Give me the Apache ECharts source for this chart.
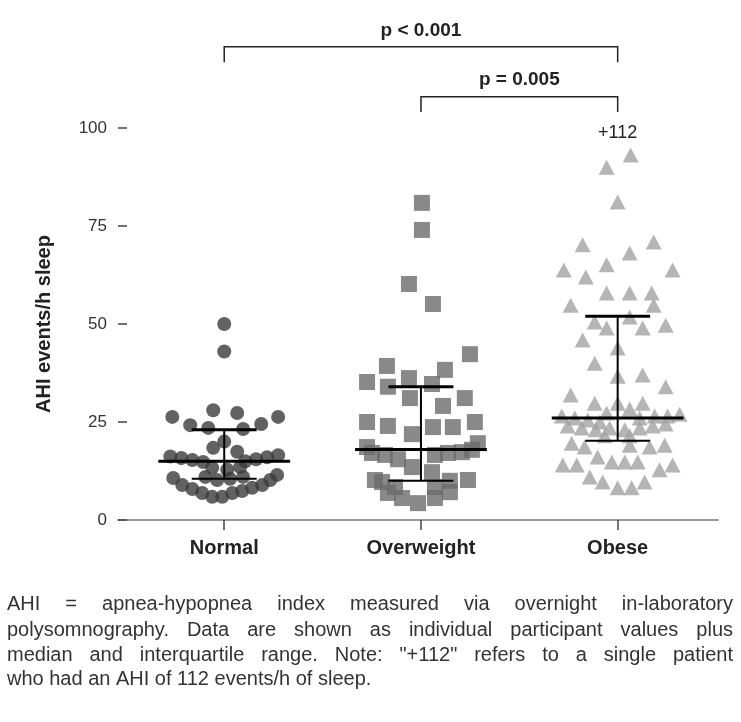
<!DOCTYPE html>
<html>
<head>
<meta charset="utf-8">
<script src="https://cdn.jsdelivr.net/npm/echarts@6/dist/echarts.min.js"></script>
<style>
  html, body { margin: 0; padding: 0; background: #fff; }
  #main { width: 741px; height: 722px; }
</style>
</head>
<body>
<div id="main"></div>
<script>
  // groups on the x axis
  var groups = ['Normal', 'Overweight', 'Obese'];

  // AHI per participant (events/h) and the horizontal spread of each dot (category units)
  var normalAHI = [50, 43, 28, 27.3, 26.3, 26.3, 24.2, 23.5, 23.2, 24.5, 20, 18.4, 17.4,
    16.2, 15.8, 15.3, 14.8, 16.5, 16, 15.5, 15, 13.3, 12.8, 13.5, 11, 10.2, 10.5, 11,
    10.7, 8.9, 7.9, 6.9, 5.9, 5.9, 6.9, 7.4, 8.2, 8.9, 10.2, 11.5];
  var normalJitter = [0, 0, -0.056, 0.066, -0.264, 0.274, -0.173, -0.081, 0.096, 0.188, 0, -0.056, 0.066,
    -0.274, -0.218, -0.162, -0.107, 0.274, 0.218, 0.162, 0.107, -0.061, 0.015, 0.081, -0.096, -0.036, 0.030, 0.096,
    -0.259, -0.213, -0.162, -0.112, -0.061, -0.010, 0.041, 0.091, 0.142, 0.193, 0.234, 0.269];

  var overweightAHI = [80.9, 74, 60.2, 55.1, 42.3, 39.3, 38.3, 35.2, 36.2, 34, 34.7, 31.1, 31.1, 29.1,
    25, 24, 23.7, 23.7, 25, 21.9, 18.6, 19.6, 17.1, 16.6, 16.6, 17.1, 17.3, 17.9, 15.5,
    13.5, 12.2, 10.2, 10.2, 8.4, 8.4, 6.9, 7.1, 5.6, 5.6, 4.3, 9.7, 10];
  var overweightJitter = [0.005, 0.005, -0.061, 0.061, 0.249, -0.173, 0.122, -0.274, -0.061, -0.168, 0.056, -0.056, 0.223, 0.112,
    -0.274, -0.168, 0.061, 0.162, 0.274, -0.046, -0.274, 0.289, -0.249, -0.183, 0.071, 0.137, 0.208, 0.259, -0.117,
    -0.046, 0.056, -0.234, 0.239, -0.132, 0.071, -0.168, 0.147, -0.096, 0.071, -0.015, -0.198, 0.147];

  var obeseAHI = [93.1, 90, 81.1, 70.2, 70.9, 68.1, 63.8, 65.1, 63.8, 62, 57.9, 57.9, 57.9, 54.8, 54.8,
    51.8, 50.5, 49, 49, 49.7, 45.9, 43.9, 40, 36.7, 37, 34, 31.9, 29.8, 29.8, 29.8, 27.3, 28.3,
    26.5, 26, 25.5, 25, 26, 26.5, 26.5, 27, 24, 23.5, 23, 23.5, 23, 23.5, 24, 24.5, 21.5, 21.5,
    19.6, 18.6, 19.1, 18.6, 19.1, 16.1, 14.8, 14.8, 14.8, 14, 14, 12.8, 14, 11, 9.7, 8.2, 8.2, 9.7];
  var obeseJitter = [0.066, -0.056, 0, -0.178, 0.183, 0.061, -0.274, -0.056, 0.279, -0.162, -0.056, 0.061, 0.173, -0.239, 0.183,
    0.061, -0.117, -0.056, 0.127, 0.244, -0.178, 0, -0.117, 0, 0.127, 0.244, -0.239, -0.117, 0, 0.127, -0.056, 0.061,
    -0.284, -0.218, -0.152, -0.091, 0.112, 0.188, 0.254, 0.315, -0.254, -0.183, -0.112, -0.041, 0.036, 0.112, 0.178, 0.244, -0.066, 0.061,
    -0.234, -0.168, 0.061, 0.162, 0.239, -0.102, -0.030, 0.036, 0.102, -0.279, -0.208, 0.213, 0.279, -0.142, -0.076, 0, 0.071, 0.137];

  // median and interquartile range per group
  var medians = [15, 18, 26];
  var q1 = [10.5, 10, 20.2];
  var q3 = [23, 34, 52];

  // single obese patient above the axis range
  var outlierAHI = 112;

  // pairwise comparisons
  var compPairs = [[0, 2], [1, 2]];
  var compLabels = ['p < 0.001', 'p = 0.005'];

  var captionLines = [
    'AHI = apnea-hypopnea index measured via overnight in-laboratory',
    'polysomnography. Data are shown as individual participant values plus',
    'median and interquartile range. Note: "+112" refers to a single patient',
    'who had an AHI of 112 events/h of sleep.'
  ];

  var FONT = 'Liberation Sans';

  function points(vals, jit, idx) {
    return vals.map(function (v, i) { return [idx + jit[i], v]; });
  }

  // justified caption, one text element per word
  var ctx = document.createElement('canvas').getContext('2d');
  ctx.font = '20px "' + FONT + '"';
  var capLeft = 7, capRight = 733, capY = [604, 630, 655, 679];
  var caption = [];
  captionLines.forEach(function (line, li) {
    var words = line.split(' ');
    var widths = words.map(function (w) { return ctx.measureText(w).width; });
    var total = widths.reduce(function (a, b) { return a + b; }, 0);
    var gap = li === captionLines.length - 1 ? ctx.measureText(' ').width
      : (capRight - capLeft - total) / (words.length - 1);
    var x = capLeft;
    words.forEach(function (w, i) {
      caption.push({
        type: 'text', x: x, y: capY[li], silent: true,
        style: { text: w, fontFamily: FONT, fontSize: 20, fill: '#333', textVerticalAlign: 'middle' }
      });
      x += widths[i] + gap;
    });
  });

  var bracketTop = [120.7, 108];
  var bracketDrop = 3.9;

  var option = {
    animation: false,
    backgroundColor: '#fff',
    grid: { left: 118, right: 23, top: 128, bottom: 202 },
    xAxis: {
      type: 'value',
      min: -0.54,
      max: 2.51,
      splitLine: { show: false },
      axisLine: { lineStyle: { color: '#999', width: 2 } },
      axisTick: { customValues: [0, 1, 2], length: 10, lineStyle: { color: '#444', width: 1.5 } },
      axisLabel: {
        customValues: [0, 1, 2],
        formatter: function (v) { return groups[Math.round(v)]; },
        fontFamily: FONT, fontSize: 20, fontWeight: 'bold', color: '#222', margin: 18
      }
    },
    yAxis: {
      type: 'value',
      min: 0,
      max: 100,
      interval: 25,
      name: 'AHI events/h sleep',
      nameLocation: 'middle',
      nameGap: 64,
      nameTextStyle: { fontFamily: FONT, fontSize: 20, fontWeight: 'bold', color: '#222' },
      splitLine: { show: false },
      axisLine: { show: false, onZero: false },
      axisTick: { show: true, inside: true, length: 9, lineStyle: { color: '#444', width: 1.5 } },
      axisLabel: { fontFamily: FONT, fontSize: 17, color: '#333', margin: 11 }
    },
    graphic: caption,
    series: [
      {
        name: groups[0], type: 'scatter', symbol: 'circle', symbolSize: 14,
        itemStyle: { color: '#3b3b3b' },
        data: points(normalAHI, normalJitter, 0)
      },
      {
        name: groups[1], type: 'scatter', symbol: 'rect', symbolSize: 16,
        itemStyle: { color: '#6b6b6b' },
        data: points(overweightAHI, overweightJitter, 1)
      },
      {
        name: groups[2], type: 'scatter', symbol: 'triangle', symbolSize: [16, 15],
        itemStyle: { color: '#a3a3a3' },
        data: points(obeseAHI, obeseJitter, 2)
      },
      {
        // median line and IQR whisker
        type: 'custom', z: 5, silent: true,
        data: groups.map(function (g, i) { return [i, q1[i], medians[i], q3[i]]; }),
        renderItem: function (params, api) {
          var c = api.value(0);
          var lo = api.coord([c, api.value(1)]);
          var hi = api.coord([c, api.value(3)]);
          var mL = api.coord([c - 0.335, api.value(2)]);
          var mR = api.coord([c + 0.335, api.value(2)]);
          var capW = api.size([0.165, 0])[0];
          return {
            type: 'group',
            children: [
              { type: 'line', shape: { x1: lo[0], y1: lo[1], x2: hi[0], y2: hi[1] }, style: { stroke: '#000', lineWidth: 2 } },
              { type: 'line', shape: { x1: hi[0] - capW, y1: hi[1], x2: hi[0] + capW, y2: hi[1] }, style: { stroke: '#000', lineWidth: 3 } },
              { type: 'line', shape: { x1: lo[0] - capW, y1: lo[1], x2: lo[0] + capW, y2: lo[1] }, style: { stroke: '#000', lineWidth: 2 } },
              { type: 'line', shape: { x1: mL[0], y1: mL[1], x2: mR[0], y2: mR[1] }, style: { stroke: '#000', lineWidth: 3 } }
            ]
          };
        }
      },
      {
        // significance brackets
        type: 'custom', clip: false, silent: true,
        data: compPairs.map(function (p, i) { return [p[0], p[1], i]; }),
        renderItem: function (params, api) {
          var i = api.value(2);
          var a = api.coord([api.value(0), bracketTop[i]]);
          var b = api.coord([api.value(1), bracketTop[i]]);
          var drop = api.coord([0, bracketTop[i] - bracketDrop])[1];
          return {
            type: 'group',
            children: [
              { type: 'polyline', shape: { points: [[a[0], drop], [a[0], a[1]], [b[0], b[1]], [b[0], drop]] },
                style: { stroke: '#222', lineWidth: 1.5, fill: null } },
              { type: 'text', x: (a[0] + b[0]) / 2, y: a[1] - 7,
                style: { text: compLabels[i], fontFamily: FONT, fontSize: 19, fontWeight: 'bold', fill: '#222',
                  textAlign: 'center', textVerticalAlign: 'bottom' } }
            ]
          };
        }
      },
      {
        // label for the off-scale patient
        type: 'custom', clip: false, silent: true,
        data: [[2, outlierAHI]],
        renderItem: function (params, api) {
          var p = api.coord([api.value(0), 100]);
          return {
            type: 'text', x: p[0], y: p[1] + 5,
            style: { text: '+' + api.value(1), fontFamily: FONT, fontSize: 18, fill: '#222',
              textAlign: 'center', textVerticalAlign: 'middle' }
          };
        }
      }
    ]
  };

  var chart = echarts.init(document.getElementById('main'));
  chart.setOption(option);
</script>
</body>
</html>
